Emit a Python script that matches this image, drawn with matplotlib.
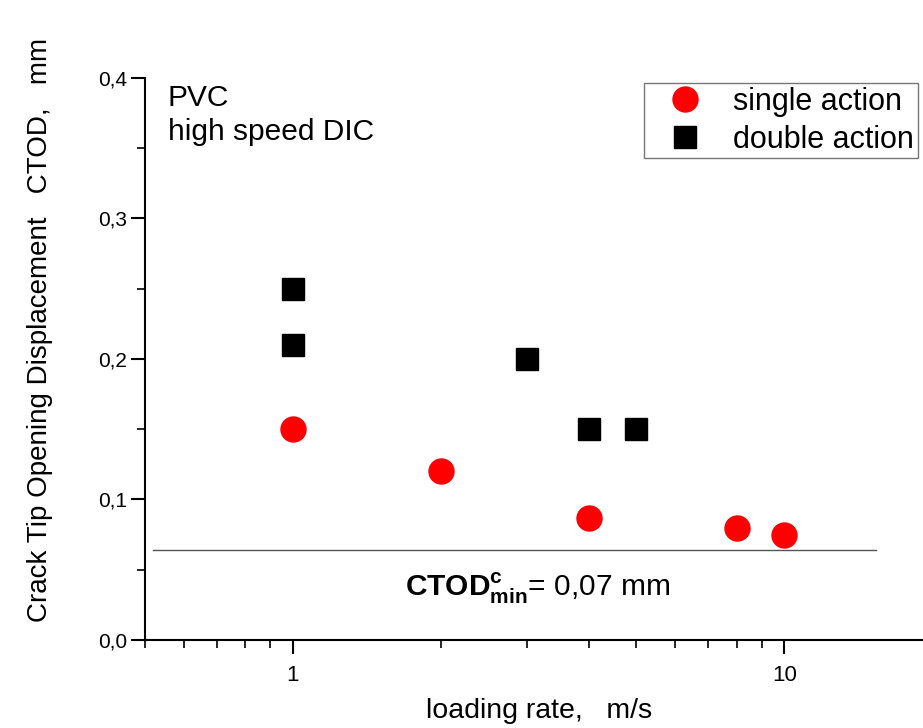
import matplotlib

matplotlib.use("Agg")
import matplotlib.pyplot as plt
from matplotlib.ticker import FixedLocator, FuncFormatter, MultipleLocator, NullFormatter

# loading rate (m/s) and CTOD (mm)
single_rate = [1, 2, 4, 8, 10]
single_ctod = [0.15, 0.12, 0.087, 0.080, 0.075]
double_rate = [1, 1, 3, 4, 5]
double_ctod = [0.25, 0.21, 0.20, 0.15, 0.15]
ctod_min = 0.064
ctod_min_span = [0.52, 15.4]

plt.rcParams["font.family"] = ["Liberation Sans", "DejaVu Sans"]
plt.rcParams["mathtext.fontset"] = "custom"
plt.rcParams["mathtext.rm"] = "Liberation Sans"
plt.rcParams["mathtext.bf"] = "Liberation Sans:bold"

fig = plt.figure(figsize=(9.23, 7.28), dpi=100)
ax = fig.add_axes([0.157, 0.121, 0.853, 0.772])

ax.plot(ctod_min_span, [ctod_min, ctod_min], color="#555555", lw=1.0)
ax.plot(single_rate, single_ctod, "o", color="red", ms=18, mec="red",
        label="single action", ls="none")
ax.plot(double_rate, double_ctod, "s", color="black", ms=15.5,
        label="double action", ls="none")

ax.set_xscale("log")
ax.set_xlim(0.5, 20)
ax.set_ylim(0, 0.4)
ax.xaxis.set_major_locator(FixedLocator([1, 10]))
ax.xaxis.set_major_formatter(FuncFormatter(lambda v, p: f"{v:g}"))
ax.xaxis.set_minor_locator(FixedLocator([0.5, 0.6, 0.7, 0.8, 0.9, 2, 3, 4, 5, 6, 7, 8, 9, 20]))
ax.xaxis.set_minor_formatter(NullFormatter())
ax.yaxis.set_major_locator(MultipleLocator(0.1))
ax.yaxis.set_minor_locator(MultipleLocator(0.05))
ax.yaxis.set_major_formatter(FuncFormatter(lambda v, p: f"{v:.1f}".replace(".", ",")))

for s in ("top", "right"):
    ax.spines[s].set_visible(False)
for s in ("left", "bottom"):
    ax.spines[s].set_linewidth(1.5)
ax.tick_params(which="major", direction="out", length=10, width=1.5)
ax.tick_params(which="minor", direction="out", length=6, width=1.2)
ax.tick_params(axis="x", which="major", pad=8, labelsize=16)
ax.tick_params(axis="y", which="major", pad=3, labelsize=15)

fig.text(0.584, 0.024, "loading rate,   m/s", ha="center", va="center", fontsize=20.5)
fig.text(0.043, 0.547, "Crack Tip Opening Displacement   CTOD,   mm", ha="center",
         va="center", rotation=90, fontsize=20)

ax.text(0.029, 0.99, "PVC\nhigh speed DIC", transform=ax.transAxes, ha="left",
        va="top", fontsize=21.5, linespacing=1.3)
ax.text(3.15, 0.037, r"$\mathbf{CTOD}^{\mathbf{c}}_{\mathbf{min}}$= 0,07 mm",
        ha="center", va="center", fontsize=21.5)

leg = ax.legend(loc="upper right", bbox_to_anchor=(0.9816, 0.991), fontsize=22,
                frameon=True, fancybox=False, edgecolor="#555555",
                handlelength=2.45, handletextpad=0.35, labelspacing=0.26,
                borderpad=0.12, borderaxespad=0)
leg.get_frame().set_linewidth(1.0)

fig.savefig("out.png", dpi=100)
